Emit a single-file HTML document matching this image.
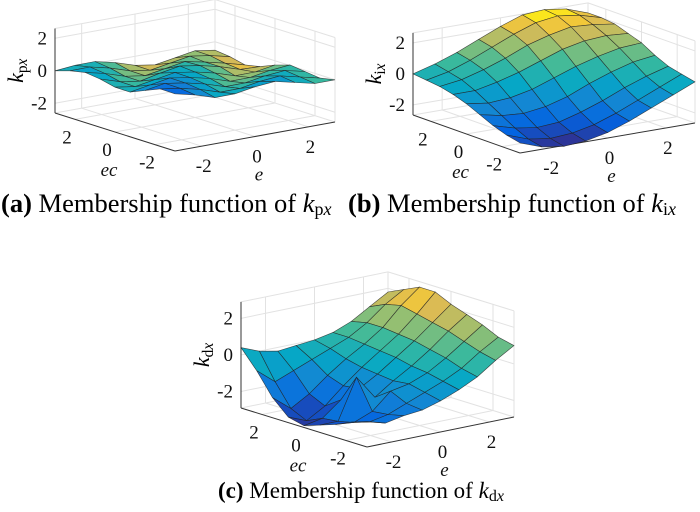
<!DOCTYPE html>
<html><head><meta charset="utf-8">
<style>
html,body{margin:0;padding:0;background:#fff;}
#wrap{position:relative;width:700px;height:512px;overflow:hidden;}
svg{position:absolute;left:0;top:0;}
text{font-family:"Liberation Serif",serif;}
</style></head>
<body>
<div id="wrap">
<svg id="fig" width="700" height="512" viewBox="0 0 700 512">
  <g id="panelA"></g>
  <g id="panelB"></g>
  <g id="panelC"></g>
  <text x="1" y="212" font-size="26.5"><tspan font-weight="bold">(a)</tspan> Membership function of <tspan font-style="italic">k</tspan><tspan font-size="18" dy="3">p<tspan font-style="italic">x</tspan></tspan></text>
  <text x="348" y="212" font-size="26.5"><tspan font-weight="bold">(b)</tspan> Membership function of <tspan font-style="italic">k</tspan><tspan font-size="18" dy="3">i<tspan font-style="italic">x</tspan></tspan></text>
  <text x="218" y="498" font-size="23"><tspan font-weight="bold">(c)</tspan> Membership function of <tspan font-style="italic">k</tspan><tspan font-size="16" dy="3">d<tspan font-style="italic">x</tspan></tspan></text>
</svg>
</div>
<script>
// grid coordinates (e along columns, ec along rows)
const eVals = [-3,-2.25,-1.5,-0.75,0,0.75,1.5,2.25,3];
const ecVals = [-3,-2.25,-1.5,-0.75,0,0.75,1.5,2.25,3];
const tickVals = [-2,0,2];
const tickLabels = ["-2","0","2"];
// k_px surface values (rows: ec, cols: e)
const kpx = [
 [0.92,0.63,0.24,0.25,0.46,0.57,0.28,-0.01,0.0],
 [0.93,0.74,0.45,0.06,0.07,0.28,0.39,0.1,-0.19],
 [0.54,0.75,0.56,0.27,-0.12,-0.11,0.1,0.21,-0.08],
 [0.15,0.36,0.57,0.38,0.09,-0.3,-0.29,-0.08,0.03],
 [0.16,-0.03,0.18,0.39,0.2,-0.09,-0.48,-0.47,-0.26],
 [0.37,-0.02,-0.21,0.06,0.27,0.08,-0.21,-0.6,-0.65],
 [0.48,0.19,-0.2,-0.39,-0.18,0.03,-0.22,-0.51,-0.84],
 [0.29,0.3,0.01,-0.38,-0.57,-0.36,-0.15,-0.34,-0.63],
 [0.0,0.11,0.12,-0.17,-0.56,-0.75,-0.54,-0.33,-0.52]
];
// k_ix surface values
const kix = [
 [-2.0,-2.5,-2.7,-2.6,-2.3,-1.8,-1.2,-0.6,0.0],
 [-1.8,-2.3,-2.5,-2.4,-2.1,-1.6,-1.0,-0.4,0.2],
 [-1.5,-1.9,-2.1,-2.0,-1.6,-1.1,-0.5,0.0,0.4],
 [-1.1,-1.4,-1.5,-1.3,-0.9,-0.3,0.2,0.6,0.8],
 [-0.7,-0.9,-0.8,-0.5,0.0,0.5,0.9,1.2,1.3],
 [-0.4,-0.4,-0.1,0.3,0.8,1.3,1.6,1.7,1.6],
 [-0.2,0.0,0.4,0.9,1.5,1.9,2.2,2.1,1.9],
 [-0.1,0.2,0.7,1.3,1.9,2.4,2.6,2.4,2.0],
 [0.0,0.4,0.9,1.5,2.1,2.6,2.7,2.5,2.0]
];
// k_dx surface values
const kdx = [
 [-1.5,-1.8,-1.6,-1.5,-1.2,-0.8,-0.3,0.4,1.0],
 [-1.8,-2.0,-1.8,-1.4,-1.0,-0.6,-0.1,0.6,1.2],
 [-2.2,-2.3,-1.9,-1.0,-0.8,-0.4,0.2,0.9,1.6],
 [-2.5,-2.5,-0.3,-1.6,-0.9,-0.3,0.4,1.2,1.9],
 [-2.8,-2.6,-1.8,-1.4,-0.8,-0.1,0.6,1.4,2.2],
 [-2.6,-3.0,-2.4,-1.5,-0.7,0.0,0.7,1.6,2.6],
 [-1.8,-2.6,-2.0,-1.2,-0.5,0.1,0.8,1.8,2.6],
 [-0.6,-1.4,-1.0,-0.6,-0.2,0.2,0.8,1.6,2.2],
 [0.4,0.0,-0.2,-0.1,0.0,0.2,0.6,1.2,1.8]
];

const parula = [[0,[53,42,135]],[0.15,[3,99,225]],[0.3,[20,133,212]],[0.45,[6,167,198]],[0.6,[56,185,158]],[0.75,[146,191,115]],[0.88,[217,186,86]],[0.95,[252,206,46]],[1,[249,251,14]]];
function cmap(t){
  t=Math.max(0,Math.min(1,t));
  for(let i=1;i<parula.length;i++){
    if(t<=parula[i][0]){
      const a=parula[i-1],b=parula[i],f=(t-a[0])/(b[0]-a[0]);
      const c=a[1].map((v,k)=>Math.round(v+(b[1][k]-v)*f));
      return `rgb(${c[0]},${c[1]},${c[2]})`;
    }
  }
  return 'rgb(249,251,14)';
}
const NS='http://www.w3.org/2000/svg';
function mk(tag,attrs,parent){const el=document.createElementNS(NS,tag);for(const k in attrs)el.setAttribute(k,attrs[k]);parent.appendChild(el);return el;}

function drawPanel(g,data,cfg){
  const F=cfg.F,L=cfg.L,R=cfg.R,zf=cfg.zf,zt=cfg.zt,uz=cfg.uz;
  const P=(e,ec,z)=>{const a=(e+3)/6,b=(ec+3)/6;return [F[0]+a*(R[0]-F[0])+b*(L[0]-F[0]), F[1]+a*(R[1]-F[1])+b*(L[1]-F[1])+(z-zf)*uz];};
  const line=(p,q,stroke,w,name)=>{const l=mk('line',{x1:p[0],y1:p[1],x2:q[0],y2:q[1],stroke:stroke,'stroke-width':w},g);
    
    return l;};
  const gc='#e2e2e2';
  tickVals.forEach(t=>{
    line(P(t,-3,zf),P(t,3,zf),gc,1,'floor-grid-e');
    line(P(t,3,zf),P(t,3,zt),gc,1,'wall-grid-e');
    line(P(-3,t,zf),P(3,t,zf),gc,1,'floor-grid-ec');
    line(P(3,t,zf),P(3,t,zt),gc,1,'wall-grid-ec');
    line(P(-3,3,t),P(3,3,t),gc,1,'wall-grid-z');
    line(P(3,3,t),P(3,-3,t),gc,1,'wall-grid-z');
  });
  line(P(3,3,zf),P(3,3,zt),gc,1,'box-edge');
  line(P(-3,3,zt),P(3,3,zt),gc,1,'box-edge');
  line(P(3,3,zt),P(3,-3,zt),gc,1,'box-edge');
  line(P(3,-3,zf),P(3,-3,zt),gc,1,'box-edge');
  line(P(-3,3,zf),P(3,3,zf),gc,1,'box-edge');
  line(P(3,3,zf),P(3,-3,zf),gc,1,'box-edge');
  line(P(-3,3,zf),P(-3,3,zt),'#333',1,'z-axis');
  line(P(-3,3,zf),P(-3,-3,zf),'#333',1,'ec-axis');
  line(P(-3,-3,zf),P(3,-3,zf),'#333',1,'e-axis');
  const fs=cfg.fs||19;
  const txt=(x,y,s,name,extra)=>{const t=mk('text',Object.assign({x:x,y:y,'font-size':fs,'text-anchor':'middle','fill':'#111'},extra||{}),g);t.textContent=s;
    
    return t;};
  tickVals.forEach((t,i)=>{
    const pz=P(-3,3,t); txt(pz[0]-8,pz[1]+6,tickLabels[i],'z-tick-label',{'text-anchor':'end'});
    const pc=P(-3,t,zf); txt(pc[0]-8,pc[1]+24,tickLabels[i],'ec-tick-label');
    const pe=P(t,-3,zf); txt(pe[0]+2,pe[1]+26,tickLabels[i],'e-tick-label');
  });
  const pcl=P(-3,0,zf); txt(pcl[0]-6,pcl[1]+44,'ec','ec-axis-title',{'font-style':'italic'});
  const pel=P(0,-3,zf); txt(pel[0]+4,pel[1]+44,'e','e-axis-title',{'font-style':'italic'});
  const pzl=P(-3,3,0);
  const zl=mk('text',{x:0,y:0,'font-size':fs+3,'text-anchor':'middle',transform:`translate(${pzl[0]-32},${pzl[1]}) rotate(-90)`},g);
  
  
  zl.innerHTML=`<tspan font-style="italic">k</tspan><tspan font-size="${(fs+3)*0.7}" dy="4">${cfg.sub}<tspan font-style="italic">x</tspan></tspan>`;
  let zmin=Infinity,zmax=-Infinity;
  data.forEach(r=>r.forEach(v=>{zmin=Math.min(zmin,v);zmax=Math.max(zmax,v);}));
  const patches=[];
  for(let i=0;i<ecVals.length-1;i++)for(let j=0;j<eVals.length-1;j++){
    const zc=(data[i][j]+data[i][j+1]+data[i+1][j]+data[i+1][j+1])/4;
    patches.push({i,j,zc,d:eVals[j]+ecVals[i]});
  }
  patches.sort((a,b)=>b.d-a.d);
  patches.forEach(p=>{
    const {i,j}=p;
    const pts=[P(eVals[j],ecVals[i],data[i][j]),P(eVals[j+1],ecVals[i],data[i][j+1]),P(eVals[j+1],ecVals[i+1],data[i+1][j+1]),P(eVals[j],ecVals[i+1],data[i+1][j])];
    let t=(p.zc-zmin)/(zmax-zmin);
    if(cfg.rev) t=0.12+0.88*(1-t);
    const poly=mk('polygon',{points:pts.map(q=>q[0].toFixed(1)+','+q[1].toFixed(1)).join(' '),fill:cmap(t),stroke:'#222','stroke-width':0.6,'stroke-opacity':0.8},g);
    
    
  });
}
drawPanel(document.getElementById('panelA'),kpx,{F:[175,151],L:[55,113],R:[335,122],zf:-2.6,zt:2.6,uz:-16.25,sub:'p',rev:true});
drawPanel(document.getElementById('panelB'),kix,{F:[520,153],L:[413,115],R:[695,123],zf:-2.65,zt:2.65,uz:-15.5,sub:'i'});
drawPanel(document.getElementById('panelC'),kdx,{F:[367,447],L:[241,408],R:[514,417],zf:-2.9,zt:2.9,uz:-18.3,sub:'d'});
</script>
</body></html>
